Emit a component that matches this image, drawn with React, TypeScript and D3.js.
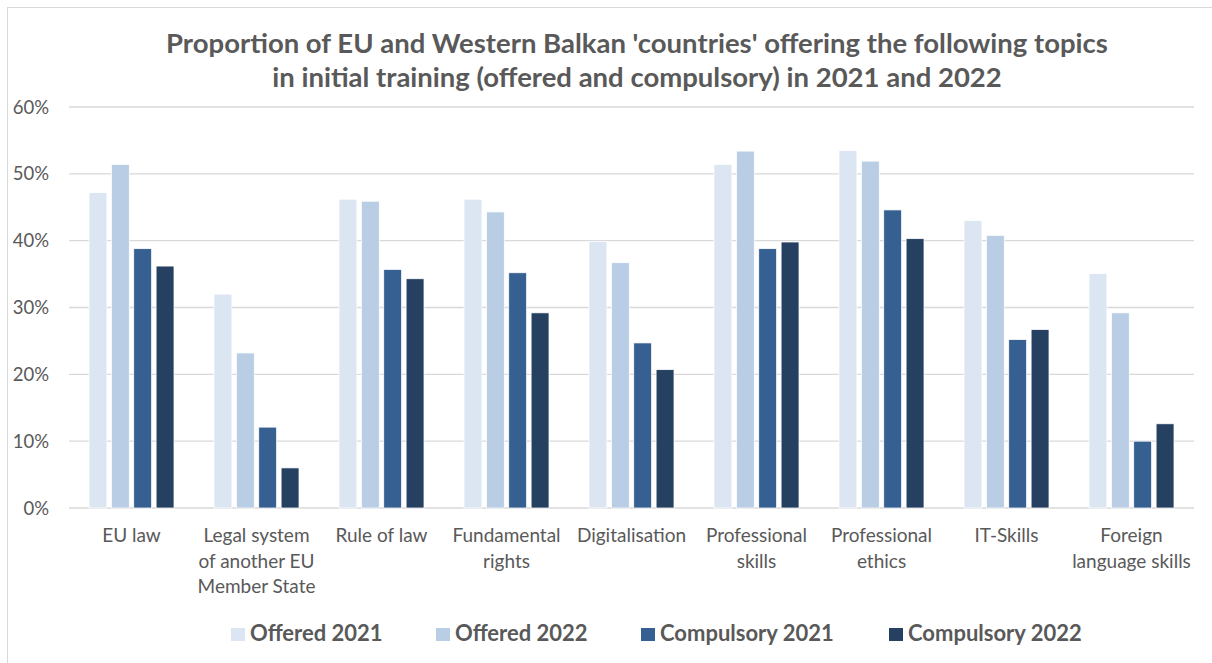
import React from "react";
import * as d3 from "d3";

const categories: string[][] = [
  ["EU law"],
  ["Legal system", "of another EU", "Member State"],
  ["Rule of law"],
  ["Fundamental", "rights"],
  ["Digitalisation"],
  ["Professional", "skills"],
  ["Professional", "ethics"],
  ["IT-Skills"],
  ["Foreign", "language skills"],
];
const seriesNames = ["Offered 2021", "Offered 2022", "Compulsory 2021", "Compulsory 2022"];
const offered2021 = [0.472, 0.32, 0.462, 0.462, 0.399, 0.514, 0.535, 0.43, 0.351];
const offered2022 = [0.514, 0.232, 0.459, 0.443, 0.367, 0.534, 0.519, 0.408, 0.292];
const compulsory2021 = [0.388, 0.121, 0.357, 0.352, 0.247, 0.388, 0.446, 0.252, 0.1];
const compulsory2022 = [0.362, 0.06, 0.343, 0.292, 0.207, 0.398, 0.403, 0.267, 0.126];
const yTicks = [0, 0.1, 0.2, 0.3, 0.4, 0.5, 0.6];
const colors = ["#DCE6F2", "#B9CDE5", "#366092", "#254061"];
const titleLines = [
  "Proportion of EU and Western Balkan 'countries' offering the following topics",
  "in initial training (offered and compulsory) in 2021 and 2022",
];

export default function App() {
  const W = 1212, H = 663;
  const left = 69, right = 1194, top = 107, bottom = 508;
  const series = [offered2021, offered2022, compulsory2021, compulsory2022];
  const x0 = d3.scaleBand<number>().domain(d3.range(categories.length)).range([left, right]).paddingInner(0).paddingOuter(0);
  const x1 = d3.scaleBand<number>().domain(d3.range(4)).range([20, x0.bandwidth() - 20]).paddingInner(0.2).paddingOuter(0);
  const y = d3.scaleLinear().domain([0, 0.6]).range([bottom, top]);
  const font = "Lato, 'Open Sans', sans-serif";
  const gray = "#595959";
  const legendX = [231, 436, 641, 889];
  return (
    <svg width={W} height={H} style={{ position: "absolute", left: 0, top: 0, background: "#fff" }}>
      <rect x={7.5} y={7.5} width={1230} height={700} fill="#fff" stroke="#D9D9D9" strokeWidth={1} />
      {titleLines.map((t, i) => (
        <text key={i} x={637} y={53 + i * 34} textAnchor="middle" fontFamily={font} fontWeight={700} fontSize={27.5} fill={gray}>
          {t}
        </text>
      ))}
      {yTicks.map((t) => (
        <g key={t}>
          <line x1={left} x2={right} y1={y(t)} y2={y(t)} stroke="#D9D9D9" strokeWidth={1.3} />
          <text x={49} y={y(t)} dy="0.36em" textAnchor="end" fontFamily={font} fontSize={18.5} fill={gray}>
            {d3.format(".0%")(t)}
          </text>
        </g>
      ))}
      {categories.map((c, i) => (
        <g key={i}>
          {series.map((s, j) => (
            <rect
              key={j}
              x={(x0(i) as number) + (x1(j) as number)}
              y={y(s[i])}
              width={x1.bandwidth()}
              height={y(0) - y(s[i])}
              fill={colors[j]}
              stroke="#fff"
              strokeWidth={0.75}
            />
          ))}
          {c.map((line, k) => (
            <text key={k} x={(x0(i) as number) + x0.bandwidth() / 2} y={542 + k * 25.5} textAnchor="middle" fontFamily={font} fontSize={19} fill={gray}>
              {line}
            </text>
          ))}
        </g>
      ))}
      {seriesNames.map((n, j) => (
        <g key={n}>
          <rect x={legendX[j]} y={628} width={14} height={13} fill={colors[j]} />
          <text x={legendX[j] + 19} y={641} fontFamily={font} fontWeight={700} fontSize={22} fill={gray}>
            {n}
          </text>
        </g>
      ))}
    </svg>
  );
}
